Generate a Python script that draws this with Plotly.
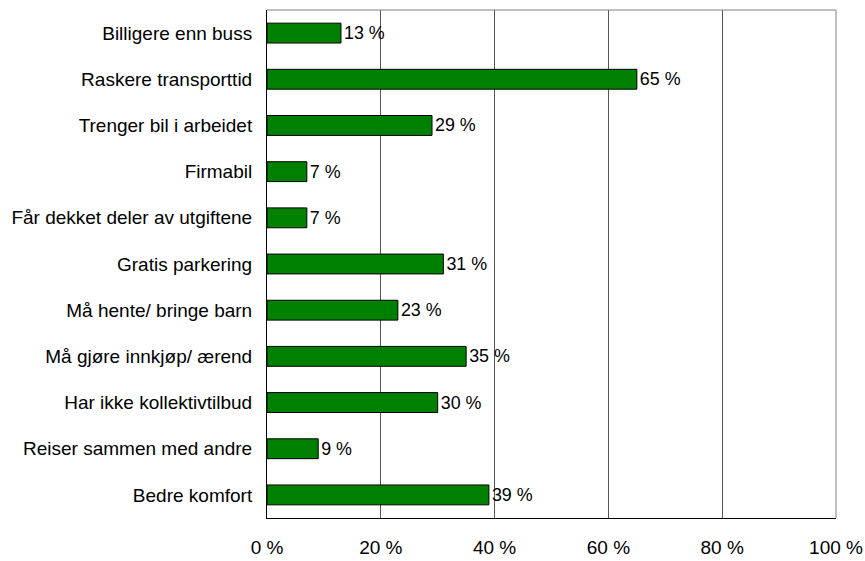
import plotly.graph_objects as go

categories = [
    "Billigere enn buss",
    "Raskere transporttid",
    "Trenger bil i arbeidet",
    "Firmabil",
    "Får dekket deler av utgiftene",
    "Gratis parkering",
    "Må hente/ bringe barn",
    "Må gjøre innkjøp/ ærend",
    "Har ikke kollektivtilbud",
    "Reiser sammen med andre",
    "Bedre komfort",
]
values = [13, 65, 29, 7, 7, 31, 23, 35, 30, 9, 39]
tick_vals = [0, 20, 40, 60, 80, 100]
tick_text = ["0 %", "20 %", "40 %", "60 %", "80 %", "100 %"]

font_family = "Liberation Sans, Arial, sans-serif"
font_size = 19

fig = go.Figure(
    go.Bar(
        y=categories,
        x=values,
        orientation="h",
        marker=dict(color="#008000", line=dict(color="#000000", width=1)),
        text=[f"{v} %" for v in values],
        textposition="outside",
        textfont=dict(family=font_family, size=18, color="#000000"),
        cliponaxis=False,
    )
)

fig.update_layout(
    width=865,
    height=561,
    margin=dict(l=267, r=29, t=10, b=43),
    paper_bgcolor="white",
    plot_bgcolor="white",
    bargap=0.57,
    showlegend=False,
    font=dict(family=font_family, size=font_size, color="#000000"),
    xaxis=dict(
        range=[0, 100],
        tickvals=tick_vals,
        ticktext=tick_text,
        automargin=False,
        showgrid=True,
        gridcolor="#555555",
        gridwidth=1,
        zeroline=False,
        showline=True,
        linecolor="#000000",
        linewidth=1,
        mirror=False,
        ticks="",
        ticklabelstandoff=12,
        tickfont=dict(family=font_family, size=font_size, color="#000000"),
    ),
    yaxis=dict(
        autorange="reversed",
        automargin=False,
        showgrid=False,
        zeroline=False,
        showline=True,
        linecolor="#000000",
        linewidth=1,
        ticks="",
        ticklabelstandoff=10,
        tickfont=dict(family=font_family, size=font_size, color="#000000"),
    ),
    shapes=[
        dict(type="line", xref="paper", yref="paper", x0=0, x1=1, y0=1, y1=1,
             line=dict(color="#808080", width=1)),
        dict(type="line", xref="paper", yref="paper", x0=1, x1=1, y0=0, y1=1,
             line=dict(color="#808080", width=1)),
    ],
)

fig.write_html("out.html")
